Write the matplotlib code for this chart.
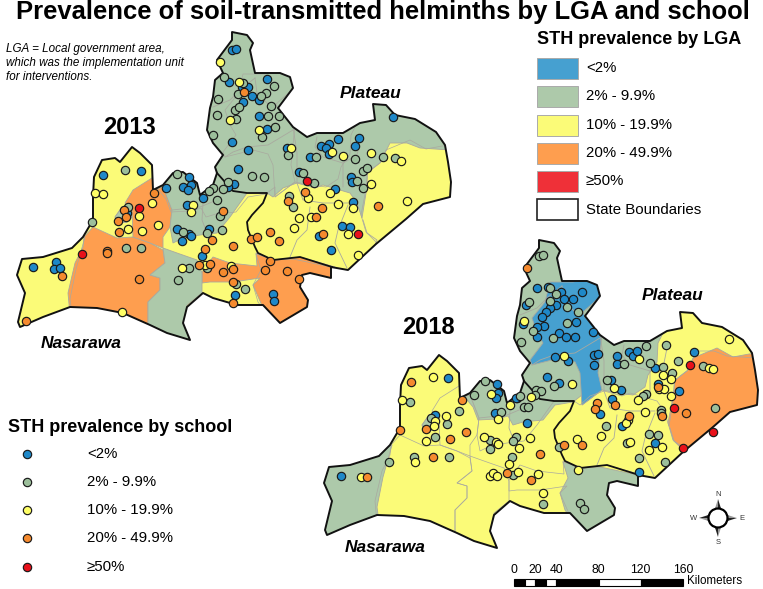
import matplotlib
matplotlib.use("Agg")
import matplotlib.pyplot as plt
from matplotlib.patches import Polygon, Rectangle, Circle
import numpy as np

plt.rcParams['font.family'] = ['Liberation Sans', 'DejaVu Sans']

# all coordinates, in image pixels
outline = [(22,259),(43,257),(72,248),(83,237),(93,220),(93,197),(94,177),(102,160),(115,158),(120,162),(132,147),
           (140,153),(152,165),(153,190),(163,185),(173,173),(183,172),(197,183),(200,195),(213,185),(217,173),(215,167),
           (223,155),(213,143),(207,130),(210,108),(213,97),(215,80),(223,73),(217,60),(232,40),(232,32),(247,35),(253,43),
           (250,50),(255,73),(280,73),(290,77),(293,88),(278,108),(293,127),(307,137),(317,133),(343,133),(360,123),(375,120),
           (373,104),(386,105),(395,115),(415,119),(436,132),(445,145),(448,162),(451,182),(450,197),(423,204),(406,219),
           (376,244),(348,270),(331,267),(331,278),(310,273),(302,275),(300,287),(308,300),(307,307),(280,323),(263,305),
           (237,305),(213,298),(203,293),(187,307),(183,323),(190,340),(167,333),(150,325),(123,313),(97,308),(70,307),
           (43,317),(20,327),(18,322),(25,293),(17,275)]
state_line = [(217,173),(233,191),(247,193),(267,193),(263,203),(252,215),(247,222),(248,230),(255,247),(258,253),(273,260),(300,257),(332,267)]
lga_lines = [[(225,157),(233,152),(247,147),(268,145),(293,130)],
             [(293,127),(297,153),(297,183)],
             [(213,107),(230,100),(240,90),(255,78)],
             [(255,78),(257,93),(272,108)],
             [(317,137),(315,147),(323,157),(343,163),(343,187)],
             [(343,163),(357,155),(360,140)],
             [(297,183),(303,200),(323,203),(348,203)],
             [(310,207),(307,230),(297,240),(290,257)],
             [(348,205),(338,230),(335,243),(347,268)],
             [(363,220),(367,233),(377,240),(373,250)],
             [(172,210),(200,207),(217,200)],
             [(203,203),(202,220),(207,233)]]

# 2013 LGA polygons (clipped to the outline afterwards)
orange_west = [(84,237),(93,227),(117,238),(133,237),(150,243),(163,250),(165,263),(150,275),(160,278),(160,290),(148,302),
               (148,330),(123,320),(97,315),(70,315),(68,293),(75,263),(83,247)]
orange_north = [(152,178),(133,190),(125,203),(132,210),(133,237),(150,243),(163,248),(163,237),(170,227),(172,210),(163,187),(153,190),(153,170)]
orange_south = [(202,272),(213,257),(230,263),(257,266),(256,253),(273,260),(300,257),(335,267),(335,285),(310,273),(303,275),
                (300,287),(312,300),(310,312),(280,330),(263,308),(253,285),(260,278),(233,282),(210,282),(202,283)]
green_south = [(163,248),(177,253),(197,260),(202,273),(202,293),(187,305),(183,323),(195,345),(167,340),(148,330),(148,302),(160,290),(160,278),(150,275),(165,263)]
green_north = [(163,187),(172,210),(170,227),(173,243),(183,238),(200,235),(217,233),(230,217),(247,193),(267,193),(273,197),
               (283,188),(297,183),(315,188),(323,185),(350,193),(357,203),(362,218),(367,187),(367,173),(380,163),(390,143),
               (407,143),(420,148),(450,150),(450,100),(230,20),(190,100),(160,170)]
green_small = [(115,217),(122,207),(128,205),(132,217),(127,222),(118,223)]
# 2018 LGA polygons
b18_blue = [(550,282),(573,282),(592,278),(598,285),(600,297),(583,312),(585,317),(602,333),(600,353),(598,373),(602,390),(582,405),
            (580,373),(575,362),(560,358),(532,365),(530,360),(543,343),(537,333),(532,318),(545,302)]
b18_green_north = [(463,395),(473,407),(478,420),(497,419),(508,416),(513,425),(523,422),(543,420),(555,405),(573,402),(582,395),(582,405),
                   (602,390),(617,393),(633,395),(645,387),(648,375),(657,362),(658,343),(663,333),(670,300),(640,250),(500,200),(480,370)]
b18_green_west = [(392,445),(383,477),(377,507),(379,522),(340,560),(300,540),(300,460),(360,440)]
b18_green_south = [(563,462),(583,468),(600,467),(638,475),(645,490),(650,520),(590,545),(565,510),(560,493),(568,478)]
b18_green_small = [(422,425),(429,415),(435,413),(439,425),(434,430),(425,431)]
b18_orange = [(688,370),(693,358),(717,348),(733,357),(760,352),(775,400),(760,430),(690,470),(683,450),(673,440),(668,423),(673,397),(675,380)]

s13_blue = [(232,50),(236,49),(229,82),(232,142),(238,169),(103,175),(141,171),(189,177),(183,187),(191,185),(188,190),(166,188),(203,198),
            (187,205),(234,184),(228,187),(127,213),(177,229),(189,234),(191,236),(209,229),(182,241),(202,256),(33,267),(56,262),(54,269),
            (60,268),(235,295),(267,79),(242,87),(248,87),(252,96),(259,100),(243,102),(259,116),(267,129),(248,150),(287,148),(310,157),
            (321,146),(329,144),(326,148),(329,154),(338,139),(359,138),(355,146),(393,117),(299,172),(351,177),(352,182),(335,189),(353,202),
            (342,226),(350,227),(319,236),(331,250),(273,294),(274,301)]
s13_green = [(125,170),(177,174),(92,222),(128,207),(183,232),(217,200),(220,216),(222,230),(207,233),(126,248),(141,248),(189,268),(178,280),
             (207,268),(213,188),(209,191),(223,189),(228,182),(236,284),(218,99),(224,77),(235,110),(217,115),(236,119),(213,135),(243,83),(274,86),
             (266,93),(261,96),(238,94),(239,107),(271,106),(268,116),(279,116),(275,127),(262,137),(252,176),(264,177),(288,155),(316,157),(355,159),
             (383,157),(395,158),(363,171),(367,168),(303,173),(314,183),(357,181),(363,188),(289,196),(293,207),(245,289)]
s13_yellow = [(220,62),(230,120),(95,193),(103,194),(152,203),(193,205),(191,212),(139,216),(128,229),(142,231),(158,225),(182,268),(205,265),
              (231,266),(122,312),(239,82),(259,130),(291,148),(332,152),(343,156),(371,153),(401,161),(371,184),(330,193),(308,198),(338,204),(353,208),
              (299,218),(311,217),(294,228),(348,234),(407,201),(358,255)]
s13_orange = [(154,193),(124,210),(126,217),(118,221),(119,232),(223,211),(212,240),(233,246),(205,249),(107,251),(107,253),(199,265),(210,264),
              (223,272),(233,269),(233,282),(139,279),(62,276),(26,321),(233,303),(244,92),(305,192),(288,201),(322,208),(316,217),(270,232),(279,241),
              (251,239),(257,237),(323,234),(378,206),(270,261),(265,270),(287,271),(299,279)]
s13_red = [(139,208),(82,254),(307,181),(358,234)]

s18_blue = [(341,476),(448,378),(497,384),(498,393),(496,398),(495,413),(435,415),(517,398),(537,288),(548,287),(561,292),(582,292),(564,299),(573,299),
            (556,305),(550,308),(546,312),(526,305),(542,317),(576,322),(544,326),(537,327),(523,324),(537,337),(559,333),(566,337),(575,337),(593,332),
            (617,356),(617,364),(629,352),(633,356),(637,351),(594,355),(598,354),(594,365),(555,357),(568,361),(547,377),(559,383),(611,380),(621,390),
            (655,368),(694,352),(658,384),(679,391),(612,399),(600,414),(622,426),(655,443),(527,423),(516,398),(639,472)]
s18_green = [(389,462),(410,402),(459,411),(447,424),(435,437),(449,457),(414,457),(474,395),(485,381),(501,412),(431,418),(490,440),(490,449),(516,437),
             (513,441),(512,457),(513,475),(539,256),(543,255),(529,302),(550,288),(556,294),(550,301),(567,307),(578,312),(567,323),(533,331),(553,338),
             (521,342),(646,346),(666,345),(678,361),(703,366),(624,364),(650,363),(663,367),(672,373),(607,380),(554,386),(536,390),(541,391),(535,395),
             (520,396),(524,407),(528,407),(646,394),(643,396),(661,410),(661,413),(715,408),(606,426),(627,443),(649,434),(658,435),(559,447),(639,458),
             (665,462),(543,504),(580,503),(584,509)]
s18_yellow = [(433,377),(402,400),(446,416),(435,421),(434,426),(426,441),(415,462),(361,477),(491,394),(498,419),(510,405),(484,437),(496,442),(498,444),
              (519,448),(509,464),(490,476),(493,473),(497,476),(518,472),(524,321),(564,356),(639,359),(572,384),(614,388),(531,397),(663,375),(671,379),
              (659,389),(664,389),(671,396),(638,400),(645,412),(709,368),(713,369),(729,339),(628,420),(626,423),(577,439),(601,436),(630,442),(530,438),
              (649,450),(662,447),(538,474),(578,470),(543,493)]
s18_orange = [(411,382),(462,400),(400,430),(426,429),(450,439),(466,432),(433,457),(367,477),(507,473),(527,268),(597,403),(595,409),(615,405),(629,416),
              (658,387),(662,416),(686,413),(564,445),(582,445),(540,454),(531,480)]
s18_red = [(690,365),(674,408),(713,432),(683,448)]

lga_labels = ['<2%', '2% - 9.9%', '10% - 19.9%', '20% - 49.9%', '≥50%']
lga_colors = ['#46A0D0', '#ADC9AA', '#FBFB78', '#FE9E4F', '#EF3038']
school_colors = ['#1E88C8', '#9CBF9B', '#FFFF66', '#F58A2E', '#E8101A']
scale_ticks = [0, 20, 40, 80, 120, 160]

BLUE, GREEN, YELLOW, ORANGE, RED = lga_colors
polys_2013 = [(orange_west, ORANGE), (orange_north, ORANGE), (orange_south, ORANGE), (green_south, GREEN), (green_north, GREEN), (green_small, GREEN)]
polys_2018 = [(b18_green_north, GREEN), (b18_blue, BLUE), (b18_green_west, GREEN), (b18_green_south, GREEN), (b18_green_small, GREEN), (b18_orange, ORANGE)]

fig = plt.figure(figsize=(7.63, 5.89), dpi=100)
ax = fig.add_axes([0, 0, 1, 1])
ax.set_xlim(0, 763)
ax.set_ylim(589, 0)
ax.axis('off')

DX, DY = 307, 208  # shift between the 2013 and the 2018 map
GREY = '#a9a99f'


def draw_map(polys, dx, dy, other, odx, ody, schools):
    out = np.array(outline) + [dx, dy]
    base = Polygon(out, closed=True, fc=YELLOW, ec='none', zorder=1)
    ax.add_patch(base)
    for pts, col in polys:
        p = Polygon(np.array(pts) + ([dx, dy] if dx == 0 else [0, 0]), closed=True, fc=col, ec=GREY, lw=0.6, zorder=2)
        ax.add_patch(p)
        p.set_clip_path(base)
    # same LGA borders from the other year, just lines
    for pts, col in other:
        p = Polygon(np.array(pts) + [odx, ody], closed=True, fc='none', ec=GREY, lw=0.5, zorder=3)
        ax.add_patch(p)
        p.set_clip_path(base)
    for line in lga_lines:
        xy = np.array(line) + [dx, dy]
        l, = ax.plot(xy[:, 0], xy[:, 1], color=GREY, lw=0.6, zorder=3)
        l.set_clip_path(base)
    xy = np.array(state_line) + [dx, dy]
    ax.plot(xy[:, 0], xy[:, 1], color='#111111', lw=1.3, zorder=4, solid_joinstyle='round')
    ax.add_patch(Polygon(out, closed=True, fc='none', ec='#111111', lw=1.4, zorder=4, joinstyle='round'))
    for pts, col in zip(schools, school_colors):
        xy = np.array(pts)
        ax.scatter(xy[:, 0], xy[:, 1], s=36, c=col, edgecolors='#1a1a1a', linewidths=0.85, zorder=5)


draw_map(polys_2013, 0, 0, polys_2018, -DX, -DY, [s13_blue, s13_green, s13_yellow, s13_orange, s13_red])
draw_map(polys_2018, DX, DY, polys_2013, DX, DY, [s18_blue, s18_green, s18_yellow, s18_orange, s18_red])

ax.text(383, 12, 'Prevalence of soil-transmitted helminths by LGA and school', ha='center', va='center', fontsize=18.45, fontweight='bold')
ax.text(129, 127, '2013', ha='center', va='center', fontsize=17, fontweight='bold')
ax.text(428, 327, '2018', ha='center', va='center', fontsize=17, fontweight='bold')
for x, y, name in [(371, 94, 'Plateau'), (673, 295, 'Plateau'), (81, 344, 'Nasarawa'), (385, 547, 'Nasarawa')]:
    ax.text(x, y, name, ha='center', va='center', fontsize=12.5, fontweight='bold', fontstyle='italic')
ax.text(6, 63, 'LGA = Local government area,\nwhich was the implementation unit\nfor interventions.', ha='left', va='center',
        fontsize=8.4, fontstyle='italic', linespacing=1.25)

# LGA legend
ax.text(537, 40, 'STH prevalence by LGA', ha='left', va='center', fontsize=13, fontweight='bold')
ys = [68, 96, 125, 153, 181]
for y, lab, col in zip(ys, lga_labels, lga_colors):
    ax.add_patch(Rectangle((537, y - 10.5), 41, 21, fc=col, ec='#aaaaaa', lw=0.7))
    ax.text(586, y, lab, ha='left', va='center', fontsize=10.8)
ax.add_patch(Rectangle((537, 199), 41, 21, fc='white', ec='#222222', lw=1.2))
ax.text(586, 210, 'State Boundaries', ha='left', va='center', fontsize=10.8)

# school legend
ax.text(8, 427, 'STH prevalence by school', ha='left', va='center', fontsize=13, fontweight='bold')
ys = [454, 482, 510, 538, 567]
for y, lab, col in zip(ys, lga_labels, school_colors):
    ax.scatter([27], [y], s=36, c=col, edgecolors='#1a1a1a', linewidths=0.85)
    ax.text(87, y, lab, ha='left', va='center', fontsize=10.8)

# north arrow
cx, cy = 718, 518
for ang in [0, 90, 180, 270]:
    ux, uy = np.cos(np.radians(ang)), np.sin(np.radians(ang))
    tip = (cx + 19 * ux, cy + 19 * uy)
    ax.add_patch(Polygon([tip, (cx + 8 * ux - 3.5 * uy, cy + 8 * uy + 3.5 * ux), (cx + 8 * ux, cy + 8 * uy)], fc='#222222', ec='none'))
    ax.add_patch(Polygon([tip, (cx + 8 * ux + 3.5 * uy, cy + 8 * uy - 3.5 * ux), (cx + 8 * ux, cy + 8 * uy)], fc='#999999', ec='none'))
ax.add_patch(Circle((cx, cy), 9.5, fc='white', ec='black', lw=1.6, zorder=3))
for x, y, s in [(718, 494, 'N'), (718, 543, 'S'), (694, 518, 'W'), (742, 518, 'E')]:
    ax.text(x, y, s, ha='center', va='center', fontsize=5.5, color='#333333')

# scale bar
km2px = (683 - 514) / 160
seg = [0, 10, 20, 30, 40, 80, 120, 160]
for i in range(len(seg) - 1):
    ax.add_patch(Rectangle((514 + seg[i] * km2px, 579), (seg[i + 1] - seg[i]) * km2px, 7,
                           fc='black' if i % 2 == 0 else 'white', ec='black', lw=0.8))
for t in scale_ticks:
    ax.text(514 + t * km2px, 570, str(t), ha='center', va='center', fontsize=8.8)
ax.text(687, 581, 'Kilometers', ha='left', va='center', fontsize=8.4)

fig.savefig('out.png', dpi=100)
